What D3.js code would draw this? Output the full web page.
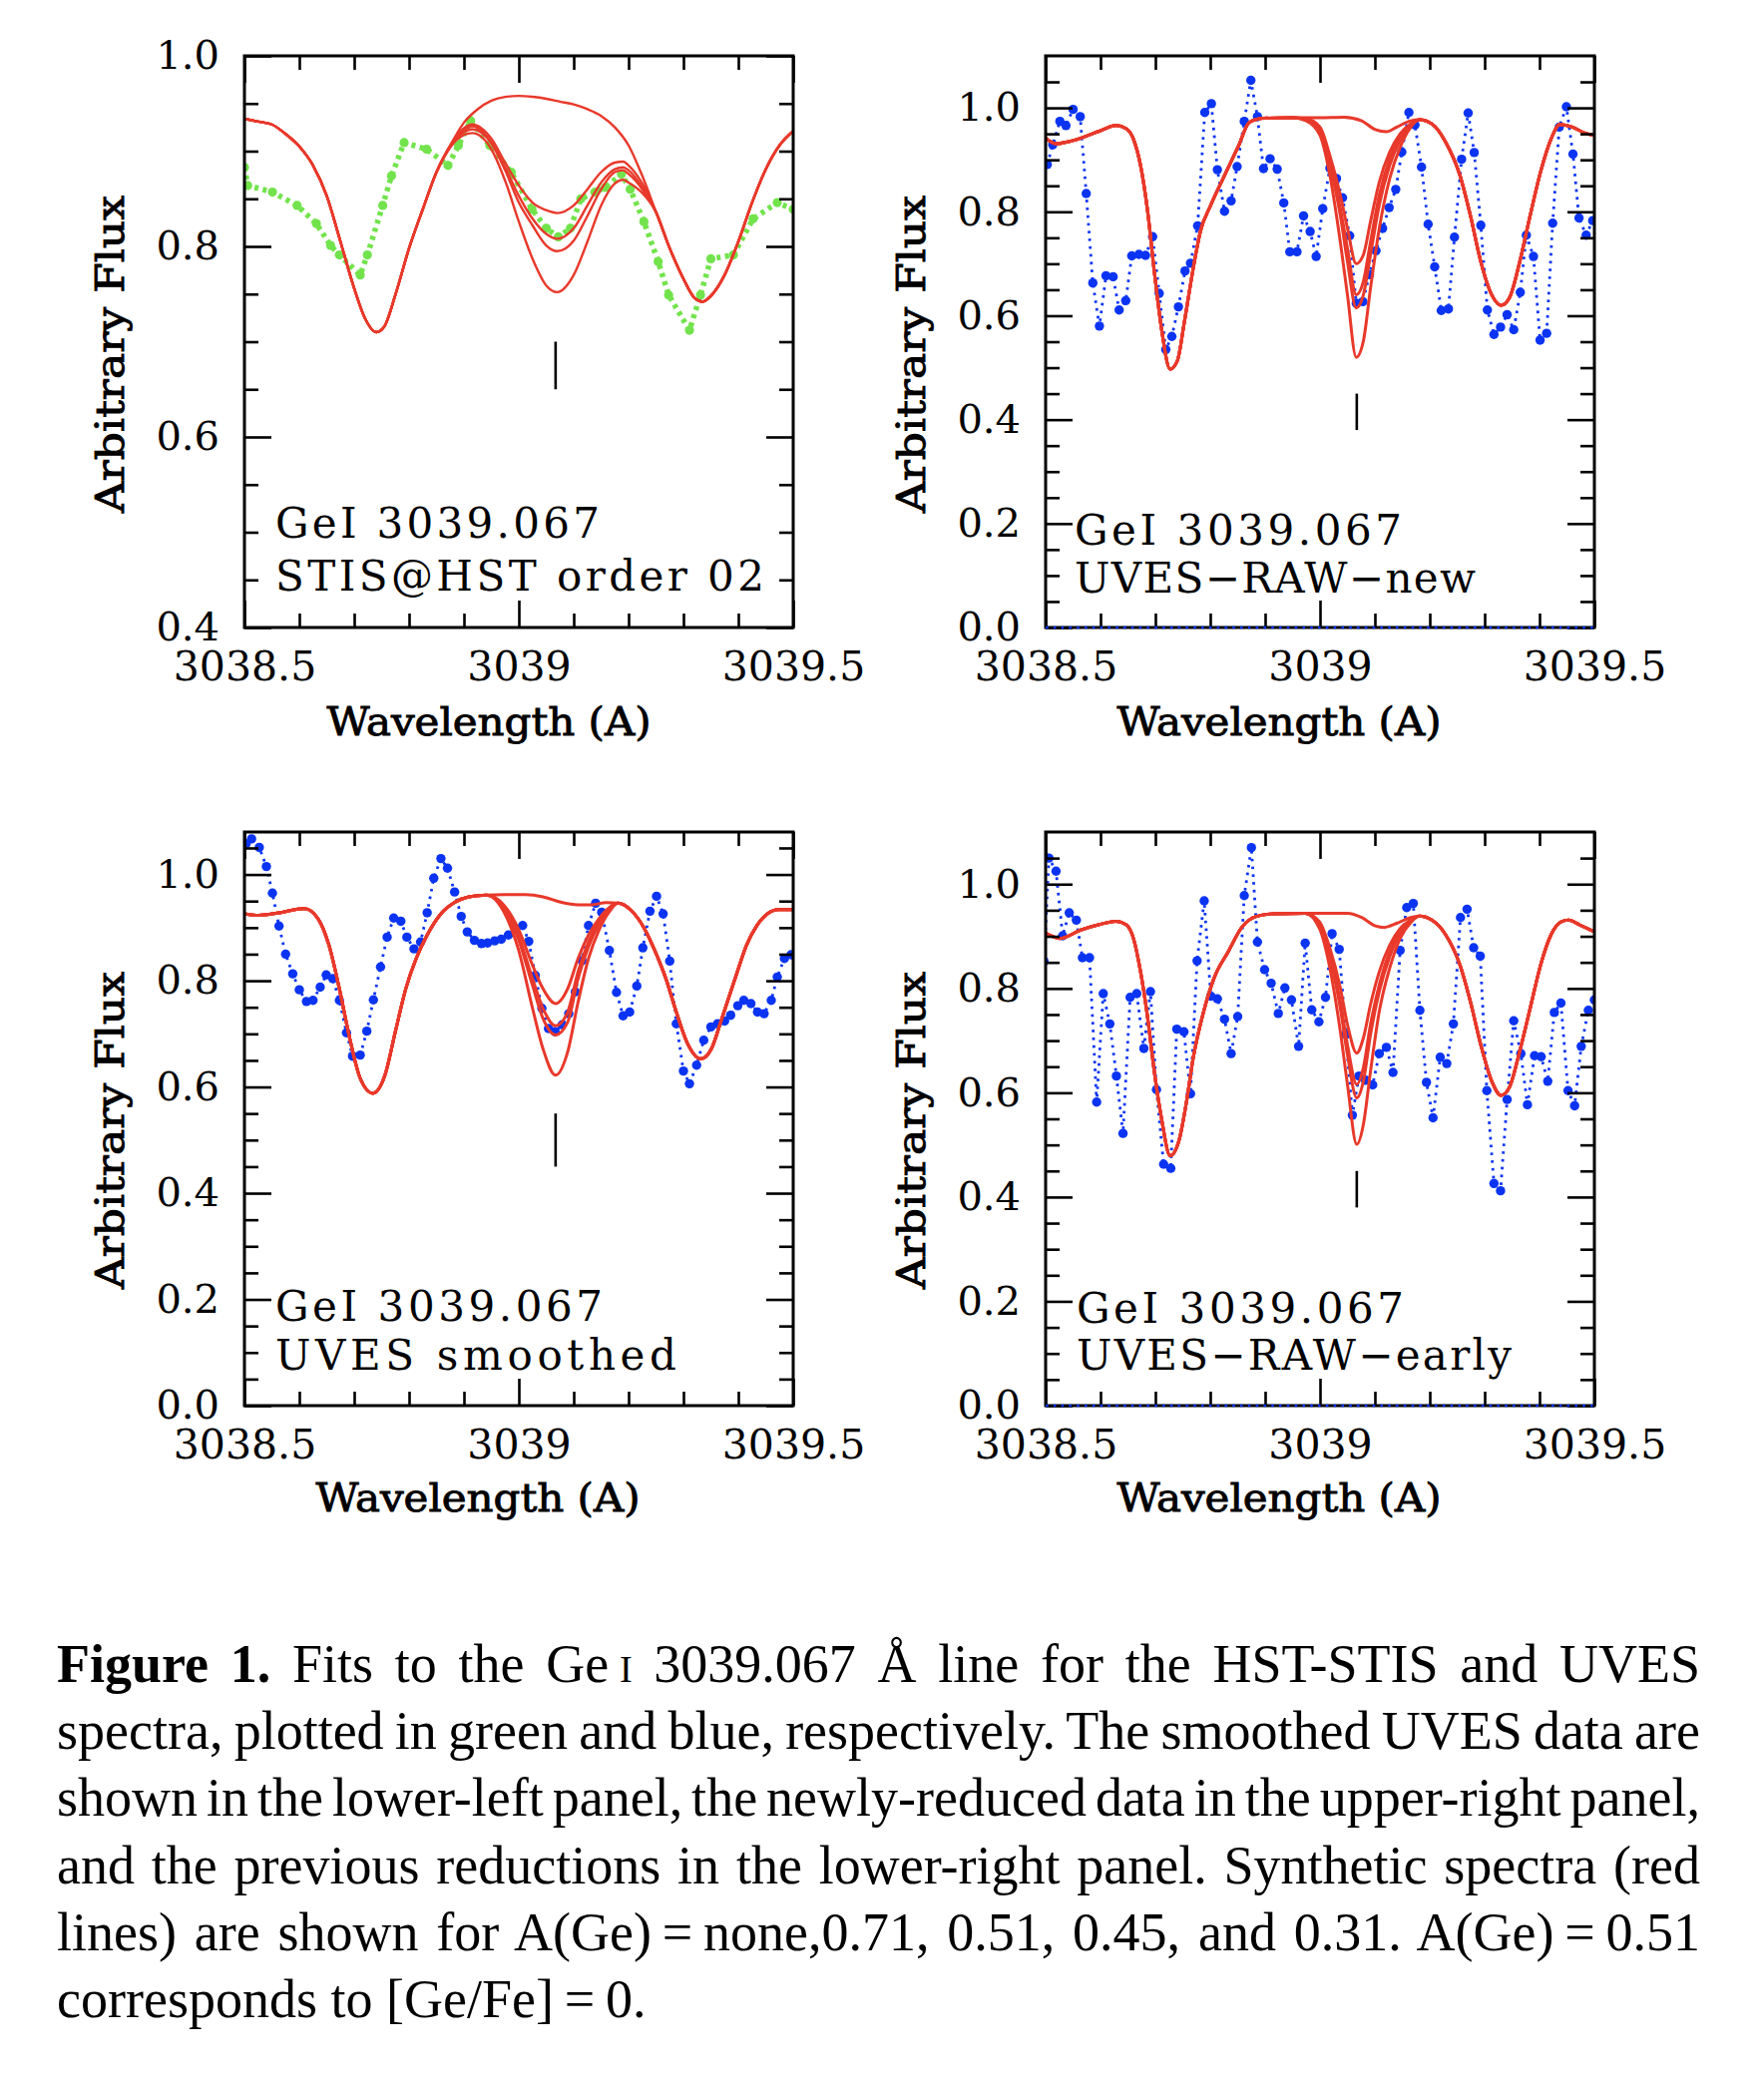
<!DOCTYPE html>
<html><head><meta charset="utf-8">
<script src="https://cdn.jsdelivr.net/npm/d3@7"></script>
<style>body{margin:0;background:#fff;} svg{display:block;background:#fff}</style>
</head><body>
<svg id="fig" width="1768" height="2088"></svg>
<script>
// ---------------- DATA ----------------
const xMajor = [3038.5, 3039.0, 3039.5];
const xLabels = ["3038.5", "3039", "3039.5"];
const xMinor = [3038.6, 3038.7, 3038.8, 3038.9, 3039.1, 3039.2, 3039.3, 3039.4];
const yMajorTL = [0.4, 0.6, 0.8, 1.0];
const yLabelsTL = ["0.4", "0.6", "0.8", "1.0"];
const yMinorTL = [0.45, 0.5, 0.55, 0.65, 0.7, 0.75, 0.85, 0.9, 0.95];
const yMajorUV = [0.0, 0.2, 0.4, 0.6, 0.8, 1.0];
const yLabelsUV = ["0.0", "0.2", "0.4", "0.6", "0.8", "1.0"];
const yMinorUV = [0.05, 0.1, 0.15, 0.25, 0.3, 0.35, 0.45, 0.5, 0.55, 0.65, 0.7, 0.75, 0.85, 0.9, 0.95, 1.05];
const geLineWl = 3039.067;
const abundances = ["0.31", "0.45", "0.51", "0.71"];

// --- Top-left: STIS@HST (green) ---
const stisData = [[3038.500,0.883],[3038.506,0.864],[3038.551,0.857],[3038.596,0.843],[3038.631,0.824],[3038.657,0.801],[3038.673,0.791],[3038.711,0.770],[3038.724,0.791],[3038.752,0.843],[3038.768,0.874],[3038.791,0.909],[3038.832,0.902],[3038.871,0.885],[3038.890,0.906],[3038.912,0.932],[3038.947,0.906],[3038.986,0.878],[3039.024,0.839],[3039.050,0.819],[3039.072,0.810],[3039.094,0.819],[3039.113,0.850],[3039.139,0.857],[3039.158,0.862],[3039.187,0.876],[3039.203,0.860],[3039.228,0.826],[3039.254,0.784],[3039.273,0.749],[3039.311,0.712],[3039.331,0.749],[3039.350,0.787],[3039.391,0.791],[3039.427,0.829],[3039.471,0.846],[3039.500,0.839]];
const tlSynthNone = [[3038.5,0.934],[3038.525,0.931],[3038.55,0.928],[3038.575,0.918],[3038.6,0.905],[3038.625,0.885],[3038.65,0.853],[3038.675,0.805],[3038.7,0.756],[3038.72,0.724],[3038.74,0.710],[3038.755,0.716],[3038.775,0.749],[3038.8,0.798],[3038.825,0.839],[3038.85,0.878],[3038.875,0.906],[3038.9,0.930],[3038.925,0.944],[3038.95,0.953],[3038.975,0.957],[3039.0,0.958],[3039.025,0.957],[3039.05,0.955],[3039.075,0.952],[3039.1,0.949],[3039.125,0.944],[3039.15,0.937],[3039.175,0.925],[3039.2,0.906],[3039.225,0.874],[3039.25,0.836],[3039.275,0.798],[3039.3,0.766],[3039.32,0.746],[3039.335,0.742],[3039.35,0.748],[3039.375,0.770],[3039.4,0.805],[3039.425,0.846],[3039.45,0.881],[3039.475,0.906],[3039.5,0.921]];
const tlAbWl  = [3038.875,3038.9,3038.915,3038.95,3038.975,3039.0,3039.025,3039.05,3039.07,3039.1,3039.125,3039.15,3039.175,3039.19,3039.2,3039.225,3039.25];
const tlAb031 = [0.906,0.924,0.928,0.913,0.888,0.864,0.846,0.838,0.835,0.843,0.860,0.878,0.888,0.889,0.885,0.866,0.836];
const tlAb045 = [0.905,0.922,0.926,0.909,0.883,0.853,0.829,0.813,0.808,0.819,0.843,0.867,0.881,0.883,0.880,0.862,0.836];
const tlAb051 = [0.905,0.920,0.923,0.908,0.880,0.846,0.822,0.801,0.795,0.806,0.832,0.860,0.878,0.880,0.876,0.860,0.836];
const tlAb071 = [0.904,0.917,0.919,0.902,0.869,0.826,0.787,0.759,0.752,0.770,0.805,0.843,0.866,0.870,0.867,0.856,0.836];

// --- Top-right: UVES-RAW-new (blue) ---
const uvesNewData = [[3038.503,0.891],[3038.513,0.929],[3038.526,0.974],[3038.537,0.966],[3038.550,0.997],[3038.563,0.983],[3038.574,0.835],[3038.586,0.663],[3038.598,0.580],[3038.610,0.677],[3038.623,0.675],[3038.634,0.611],[3038.646,0.629],[3038.657,0.715],[3038.670,0.718],[3038.682,0.716],[3038.695,0.752],[3038.707,0.643],[3038.719,0.535],[3038.730,0.560],[3038.742,0.617],[3038.754,0.686],[3038.764,0.701],[3038.777,0.773],[3038.790,0.991],[3038.802,1.008],[3038.813,0.881],[3038.826,0.801],[3038.838,0.821],[3038.849,0.887],[3038.862,0.974],[3038.874,1.053],[3038.886,0.983],[3038.897,0.883],[3038.909,0.902],[3038.922,0.882],[3038.934,0.817],[3038.945,0.723],[3038.958,0.723],[3038.970,0.792],[3038.982,0.762],[3038.993,0.714],[3039.005,0.806],[3039.018,0.884],[3039.030,0.864],[3039.041,0.827],[3039.054,0.754],[3039.066,0.624],[3039.078,0.627],[3039.090,0.679],[3039.102,0.725],[3039.114,0.768],[3039.126,0.808],[3039.138,0.843],[3039.149,0.915],[3039.162,0.991],[3039.173,0.967],[3039.185,0.886],[3039.197,0.776],[3039.209,0.694],[3039.221,0.610],[3039.234,0.613],[3039.245,0.751],[3039.258,0.901],[3039.270,0.990],[3039.281,0.914],[3039.293,0.774],[3039.305,0.611],[3039.317,0.564],[3039.329,0.578],[3039.341,0.602],[3039.353,0.573],[3039.365,0.645],[3039.376,0.755],[3039.389,0.714],[3039.401,0.553],[3039.413,0.566],[3039.424,0.778],[3039.436,0.963],[3039.449,1.002],[3039.461,0.911],[3039.472,0.788],[3039.485,0.755],[3039.497,0.783]];
const trSynthNone = [[3038.500,0.942],[3038.519,0.931],[3038.550,0.937],[3038.600,0.956],[3038.628,0.966],[3038.647,0.960],[3038.660,0.940],[3038.673,0.889],[3038.686,0.800],[3038.698,0.685],[3038.711,0.576],[3038.727,0.497],[3038.740,0.513],[3038.753,0.589],[3038.769,0.691],[3038.782,0.762],[3038.801,0.813],[3038.826,0.870],[3038.852,0.928],[3038.871,0.972],[3038.897,0.980],[3038.948,0.981],[3038.999,0.981],[3039.044,0.982],[3039.076,0.975],[3039.101,0.958],[3039.121,0.954],[3039.140,0.963],[3039.165,0.975],[3039.181,0.977],[3039.204,0.969],[3039.229,0.934],[3039.255,0.870],[3039.274,0.793],[3039.293,0.704],[3039.313,0.640],[3039.330,0.620],[3039.345,0.634],[3039.364,0.704],[3039.383,0.793],[3039.402,0.877],[3039.421,0.940],[3039.437,0.968],[3039.460,0.963],[3039.479,0.953],[3039.500,0.947]];
const trAbWl  = [3038.95,3038.975,3039.0,3039.018,3039.037,3039.05,3039.066,3039.079,3039.092,3039.108,3039.127,3039.146,3039.165,3039.181];
const trAb031 = [0.981,0.979,0.963,0.908,0.832,0.768,0.700,0.717,0.781,0.857,0.915,0.950,0.969,0.977];
const trAb045 = [0.981,0.978,0.960,0.896,0.806,0.730,0.640,0.666,0.742,0.832,0.902,0.944,0.968,0.977];
const trAb051 = [0.981,0.977,0.956,0.889,0.793,0.704,0.615,0.640,0.717,0.813,0.889,0.937,0.966,0.977];
const trAb071 = [0.981,0.975,0.947,0.870,0.742,0.640,0.520,0.551,0.653,0.768,0.864,0.924,0.962,0.977];

// --- Bottom-left: UVES smoothed (blue) ---
const uvesSmoothData = [[3038.503,1.058],[3038.513,1.067],[3038.527,1.051],[3038.540,1.015],[3038.551,0.965],[3038.563,0.903],[3038.575,0.850],[3038.588,0.813],[3038.600,0.783],[3038.613,0.761],[3038.625,0.763],[3038.638,0.788],[3038.649,0.811],[3038.661,0.804],[3038.673,0.763],[3038.686,0.702],[3038.697,0.658],[3038.711,0.660],[3038.723,0.705],[3038.735,0.764],[3038.748,0.826],[3038.760,0.882],[3038.772,0.918],[3038.785,0.912],[3038.796,0.882],[3038.809,0.860],[3038.821,0.873],[3038.833,0.928],[3038.845,0.993],[3038.858,1.030],[3038.870,1.012],[3038.883,0.967],[3038.895,0.921],[3038.906,0.892],[3038.919,0.876],[3038.932,0.870],[3038.943,0.871],[3038.956,0.875],[3038.968,0.878],[3038.981,0.886],[3038.994,0.898],[3039.007,0.904],[3039.018,0.874],[3039.030,0.810],[3039.042,0.748],[3039.054,0.710],[3039.066,0.704],[3039.079,0.717],[3039.091,0.738],[3039.103,0.779],[3039.115,0.838],[3039.127,0.904],[3039.140,0.946],[3039.151,0.929],[3039.165,0.857],[3039.178,0.778],[3039.190,0.734],[3039.202,0.741],[3039.215,0.790],[3039.226,0.862],[3039.239,0.931],[3039.251,0.959],[3039.263,0.926],[3039.275,0.837],[3039.287,0.719],[3039.300,0.630],[3039.311,0.606],[3039.324,0.641],[3039.337,0.688],[3039.350,0.713],[3039.362,0.719],[3039.375,0.724],[3039.386,0.735],[3039.399,0.753],[3039.410,0.763],[3039.423,0.757],[3039.435,0.741],[3039.447,0.738],[3039.460,0.763],[3039.471,0.807],[3039.484,0.842],[3039.496,0.849]];
const blSynthNone = [[3038.500,0.926],[3038.526,0.923],[3038.564,0.928],[3038.609,0.936],[3038.634,0.917],[3038.654,0.867],[3038.673,0.785],[3038.692,0.691],[3038.711,0.616],[3038.734,0.588],[3038.756,0.622],[3038.775,0.704],[3038.794,0.785],[3038.813,0.842],[3038.833,0.886],[3038.858,0.926],[3038.884,0.948],[3038.909,0.958],[3038.941,0.961],[3038.973,0.962],[3039.012,0.962],[3039.044,0.958],[3039.076,0.948],[3039.108,0.943],[3039.133,0.943],[3039.159,0.947],[3039.181,0.946],[3039.204,0.933],[3039.229,0.898],[3039.249,0.854],[3039.268,0.804],[3039.287,0.741],[3039.306,0.685],[3039.332,0.653],[3039.351,0.672],[3039.370,0.729],[3039.396,0.810],[3039.415,0.867],[3039.434,0.904],[3039.453,0.926],[3039.473,0.934],[3039.500,0.934]];
const blAbWl  = [3038.941,3038.973,3038.999,3039.025,3039.044,3039.067,3039.089,3039.108,3039.127,3039.146,3039.165,3039.181];
const blAb031 = [0.961,0.942,0.898,0.829,0.785,0.757,0.785,0.842,0.886,0.917,0.938,0.946];
const blAb045 = [0.961,0.939,0.886,0.804,0.748,0.715,0.741,0.817,0.873,0.911,0.937,0.946];
const blAb051 = [0.961,0.936,0.879,0.791,0.729,0.698,0.722,0.804,0.864,0.906,0.935,0.946];
const blAb071 = [0.961,0.929,0.860,0.748,0.672,0.622,0.666,0.760,0.842,0.895,0.930,0.946];

// --- Bottom-right: UVES-RAW-early (blue) ---
const uvesEarlyData = [[3038.497,0.852],[3038.506,1.050],[3038.519,1.025],[3038.531,0.901],[3038.543,0.945],[3038.556,0.931],[3038.567,0.859],[3038.580,0.859],[3038.593,0.582],[3038.605,0.790],[3038.617,0.732],[3038.629,0.632],[3038.641,0.522],[3038.654,0.783],[3038.666,0.790],[3038.679,0.685],[3038.691,0.794],[3038.702,0.606],[3038.715,0.463],[3038.728,0.455],[3038.739,0.722],[3038.752,0.717],[3038.764,0.598],[3038.776,0.853],[3038.789,0.968],[3038.801,0.785],[3038.813,0.780],[3038.826,0.741],[3038.838,0.675],[3038.850,0.746],[3038.862,0.978],[3038.875,1.070],[3038.886,0.889],[3038.899,0.836],[3038.911,0.810],[3038.924,0.752],[3038.936,0.801],[3038.948,0.778],[3038.961,0.689],[3038.973,0.887],[3038.985,0.759],[3038.998,0.736],[3039.010,0.783],[3039.022,0.905],[3039.035,0.875],[3039.047,0.712],[3039.059,0.557],[3039.071,0.632],[3039.083,0.624],[3039.096,0.615],[3039.108,0.675],[3039.121,0.687],[3039.133,0.639],[3039.146,0.873],[3039.158,0.955],[3039.170,0.963],[3039.182,0.758],[3039.194,0.620],[3039.206,0.552],[3039.219,0.668],[3039.231,0.656],[3039.243,0.732],[3039.256,0.936],[3039.268,0.952],[3039.280,0.878],[3039.292,0.862],[3039.304,0.604],[3039.317,0.426],[3039.329,0.412],[3039.341,0.587],[3039.353,0.738],[3039.366,0.675],[3039.378,0.577],[3039.391,0.671],[3039.403,0.669],[3039.415,0.622],[3039.427,0.754],[3039.439,0.772],[3039.452,0.604],[3039.464,0.575],[3039.476,0.689],[3039.489,0.758],[3039.500,0.778]];
const brSynthNone = [[3038.500,0.906],[3038.526,0.896],[3038.564,0.912],[3038.596,0.922],[3038.628,0.929],[3038.647,0.922],[3038.660,0.896],[3038.673,0.832],[3038.686,0.743],[3038.698,0.641],[3038.711,0.552],[3038.727,0.479],[3038.743,0.508],[3038.756,0.578],[3038.769,0.667],[3038.788,0.756],[3038.807,0.820],[3038.833,0.871],[3038.858,0.918],[3038.884,0.938],[3038.916,0.943],[3038.973,0.944],[3039.012,0.944],[3039.050,0.944],[3039.076,0.936],[3039.101,0.920],[3039.117,0.917],[3039.140,0.925],[3039.165,0.936],[3039.181,0.939],[3039.204,0.931],[3039.229,0.903],[3039.255,0.845],[3039.274,0.775],[3039.293,0.692],[3039.313,0.622],[3039.330,0.595],[3039.345,0.610],[3039.364,0.680],[3039.383,0.762],[3039.402,0.845],[3039.421,0.903],[3039.440,0.928],[3039.453,0.931],[3039.473,0.922],[3039.500,0.909]];
const brAbWl  = [3038.973,3038.999,3039.018,3039.037,3039.05,3039.067,3039.079,3039.092,3039.108,3039.127,3039.146,3039.165,3039.181];
const brAb031 = [0.944,0.928,0.877,0.801,0.731,0.676,0.705,0.769,0.832,0.883,0.915,0.931,0.939];
const brAb045 = [0.944,0.925,0.864,0.775,0.692,0.616,0.648,0.731,0.807,0.871,0.910,0.930,0.939];
const brAb051 = [0.944,0.922,0.858,0.762,0.673,0.590,0.622,0.711,0.794,0.861,0.906,0.929,0.939];
const brAb071 = [0.944,0.915,0.839,0.718,0.616,0.501,0.539,0.641,0.756,0.839,0.896,0.926,0.939];

const panelLabels = [
  ["GeI 3039.067", "STIS@HST order 02"],
  ["GeI 3039.067", "UVES\u2212RAW\u2212new"],
  ["GeI 3039.067", "UVES smoothed"],
  ["GeI 3039.067", "UVES\u2212RAW\u2212early"]
];
const xTitle = "Wavelength (A)";
const yTitle = "Arbitrary Flux";

const captionLines = [
  [{t:"Figure 1.", b:true}, {t:" Fits to the Ge\u2009"}, {t:"I", sc:true}, {t:" 3039.067 \u00C5 line for the HST-STIS and UVES"}],
  [{t:"spectra, plotted in green and blue, respectively. The smoothed UVES data are"}],
  [{t:"shown in the lower-left panel, the newly-reduced data in the upper-right panel,"}],
  [{t:"and the previous reductions in the lower-right panel. Synthetic spectra (red"}],
  [{t:"lines) are shown for A(Ge)\u2009=\u2009none,0.71, 0.51, 0.45, and 0.31. A(Ge)\u2009=\u20090.51"}],
  [{t:"corresponds to [Ge/Fe]\u2009=\u20090."}]
];

// ---------------- DRAWING ----------------
const svg = d3.select("#fig");
const RED = "#e8392b", BLUE = "#0b34f2", GREEN = "#72e34c";
const SERIF = "'DejaVu Serif', serif";

const zip = (wl, v) => wl.map((w, i) => [w, v[i]]);

const panels = [
  {id:"tl", x0:245, x1:795, y0:56, y1:629, yMin:0.4, yMax:1.0, yMajor:yMajorTL, yLabels:yLabelsTL, yMinor:yMinorTL,
   data:stisData, kind:"green", none:tlSynthNone, abWl:tlAbWl, ab:[tlAb031,tlAb045,tlAb051,tlAb071], redW:2.4,
   marker:[0.65,0.70], labels:panelLabels[0], lblX:276, lblY:[539,592], lblW:[325,490], xtC:490, xtY:737, ytX:124, ytC:355, zero:false},
  {id:"tr", x0:1048, x1:1598, y0:56, y1:629, yMin:0, yMax:1.1, yMajor:yMajorUV, yLabels:yLabelsUV, yMinor:yMinorUV,
   data:uvesNewData, kind:"blue", none:trSynthNone, abWl:trAbWl, ab:[trAb031,trAb045,trAb051,trAb071], redW:3,
   marker:[0.38,0.45], labels:panelLabels[1], lblX:1077, lblY:[546,594], lblW:[328,402], xtC:1282, xtY:737, ytX:927, ytC:355, zero:true},
  {id:"bl", x0:245, x1:795, y0:834, y1:1409, yMin:0, yMax:1.08, yMajor:yMajorUV, yLabels:yLabelsUV, yMinor:yMinorUV,
   data:uvesSmoothData, kind:"blue", none:blSynthNone, abWl:blAbWl, ab:[blAb031,blAb045,blAb051,blAb071], redW:3,
   marker:[0.45,0.55], labels:panelLabels[2], lblX:276, lblY:[1324,1373], lblW:[328,402], xtC:479, xtY:1515, ytX:124, ytC:1133, zero:false},
  {id:"br", x0:1048, x1:1598, y0:834, y1:1409, yMin:0, yMax:1.1, yMajor:yMajorUV, yLabels:yLabelsUV, yMinor:yMinorUV,
   data:uvesEarlyData, kind:"blue", none:brSynthNone, abWl:brAbWl, ab:[brAb031,brAb045,brAb051,brAb071], redW:3,
   marker:[0.38,0.45], labels:panelLabels[3], lblX:1079, lblY:[1326,1373], lblW:[328,436], xtC:1282, xtY:1515, ytX:927, ytC:1133, zero:true}
];

function drawPanel(p) {
  const x = d3.scaleLinear().domain([3038.5, 3039.5]).range([p.x0, p.x1]);
  const y = d3.scaleLinear().domain([p.yMin, p.yMax]).range([p.y1, p.y0]);
  const g = svg.append("g").attr("class", "panel-" + p.id);
  const clipId = "clip-" + p.id;
  svg.append("defs").append("clipPath").attr("id", clipId)
    .append("rect").attr("x", p.x0).attr("y", p.y0).attr("width", p.x1 - p.x0).attr("height", p.y1 - p.y0);
  const plot = g.append("g").attr("clip-path", `url(#${clipId})`);
  const lin = d3.line().x(d => x(d[0])).y(d => y(d[1]));

  // observed data
  if (p.kind === "green") {
    plot.append("path").datum(p.data).attr("d", lin).attr("fill", "none")
      .attr("stroke", GREEN).attr("stroke-width", 5.5).attr("stroke-dasharray", "4,4.5");
    plot.selectAll("circle.obs").data(p.data).join("circle").attr("class", "obs")
      .attr("cx", d => x(d[0])).attr("cy", d => y(d[1])).attr("r", 4.6).attr("fill", GREEN);
  } else {
    plot.append("path").datum(p.data).attr("d", lin).attr("fill", "none")
      .attr("stroke", BLUE).attr("stroke-width", 2.8).attr("stroke-dasharray", "2.6,5.2");
    plot.selectAll("circle.obs").data(p.data).join("circle").attr("class", "obs")
      .attr("cx", d => x(d[0])).attr("cy", d => y(d[1])).attr("r", 4.7).attr("fill", BLUE);
  }

  // synthetic spectra
  const smooth = d3.line().x(d => x(d[0])).y(d => y(d[1])).curve(d3.curveMonotoneX);
  const curves = [p.none];
  p.ab.forEach(vals => {
    const seg = zip(p.abWl, vals);
    const a0 = seg[0][0], a1 = seg[seg.length - 1][0];
    curves.push(p.none.filter(d => d[0] < a0).concat(seg, p.none.filter(d => d[0] > a1)));
  });
  plot.selectAll("path.synth").data(curves).join("path").attr("class", "synth")
    .attr("d", smooth).attr("fill", "none").attr("stroke", RED)
    .attr("stroke-width", p.redW).attr("stroke-linejoin", "round");

  // Ge line marker
  g.append("line").attr("x1", x(geLineWl)).attr("x2", x(geLineWl))
    .attr("y1", y(p.marker[0])).attr("y2", y(p.marker[1]))
    .attr("stroke", "#000").attr("stroke-width", 2.6);

  // axes
  const styleAxis = sel => {
    sel.select(".domain").remove();
    sel.selectAll(".tick line").attr("stroke", "#000").attr("stroke-width", 2.6);
    sel.attr("font-family", SERIF).attr("font-size", 40);
    sel.selectAll(".tick text").attr("fill", "#000");
  };
  g.append("g").attr("transform", `translate(${p.x0},0)`)
    .call(d3.axisLeft(y).tickValues(p.yMajor).tickSize(-27).tickPadding(25)
      .tickFormat(d => p.yLabels[p.yMajor.indexOf(d)])).call(styleAxis);
  g.append("g").attr("transform", `translate(${p.x0},0)`)
    .call(d3.axisLeft(y).tickValues(p.yMinor).tickSize(-14).tickFormat("")).call(styleAxis);
  g.append("g").attr("transform", `translate(${p.x1},0)`)
    .call(d3.axisRight(y).tickValues(p.yMajor).tickSize(-27).tickFormat("")).call(styleAxis);
  g.append("g").attr("transform", `translate(${p.x1},0)`)
    .call(d3.axisRight(y).tickValues(p.yMinor).tickSize(-14).tickFormat("")).call(styleAxis);
  const bx = g.append("g").attr("transform", `translate(0,${p.y1})`)
    .call(d3.axisBottom(x).tickValues(xMajor).tickSize(-27)
      .tickFormat(d => xLabels[xMajor.indexOf(d)])).call(styleAxis);
  bx.selectAll(".tick text").attr("y", 53).attr("dy", 0).attr("font-size", 41);
  g.append("g").attr("transform", `translate(0,${p.y1})`)
    .call(d3.axisBottom(x).tickValues(xMinor).tickSize(-14).tickFormat("")).call(styleAxis);
  g.append("g").attr("transform", `translate(0,${p.y0})`)
    .call(d3.axisTop(x).tickValues(xMajor).tickSize(-27).tickFormat("")).call(styleAxis);
  g.append("g").attr("transform", `translate(0,${p.y0})`)
    .call(d3.axisTop(x).tickValues(xMinor).tickSize(-14).tickFormat("")).call(styleAxis);

  // frame
  g.append("rect").attr("x", p.x0).attr("y", p.y0).attr("width", p.x1 - p.x0).attr("height", p.y1 - p.y0)
    .attr("fill", "none").attr("stroke", "#000").attr("stroke-width", 3);

  // zero-level dotted line (raw UVES panels)
  if (p.zero) {
    g.append("line").attr("x1", x(3038.5)).attr("x2", x(3039.5)).attr("y1", y(0)).attr("y2", y(0))
      .attr("stroke", BLUE).attr("stroke-width", 2.6).attr("stroke-dasharray", "2.6,5.2");
  }

  // in-panel labels
  p.labels.forEach((t, i) => {
    g.append("text").attr("x", p.lblX).attr("y", p.lblY[i]).text(t)
      .attr("font-family", SERIF).attr("font-size", 42).attr("fill", "#000")
      .attr("textLength", p.lblW[i]).attr("lengthAdjust", "spacing");
  });

  // axis titles (medium weight)
  g.append("text").attr("x", p.xtC).attr("y", p.xtY).attr("text-anchor", "middle").text(xTitle)
    .attr("font-family", SERIF).attr("font-size", 40).attr("fill", "#000")
    .attr("stroke", "#000").attr("stroke-width", 0.9)
    .attr("textLength", 325).attr("lengthAdjust", "spacingAndGlyphs");
  g.append("text").attr("transform", `translate(${p.ytX},${p.ytC}) rotate(-90)`)
    .attr("text-anchor", "middle").text(yTitle)
    .attr("font-family", SERIF).attr("font-size", 40).attr("fill", "#000")
    .attr("stroke", "#000").attr("stroke-width", 0.9)
    .attr("textLength", 318).attr("lengthAdjust", "spacingAndGlyphs");
}

panels.forEach(drawPanel);

// caption
const capX0 = 57, capX1 = 1704, capY0 = 1686, capDY = 67.2;
captionLines.forEach((segs, li) => {
  const t = svg.append("text").attr("x", capX0).attr("y", capY0 + li * capDY)
    .attr("font-family", "'Liberation Serif', 'Times New Roman', serif").attr("font-size", 54).attr("fill", "#000");
  segs.forEach(s => {
    const ts = t.append("tspan").text(s.t);
    if (s.b) ts.attr("font-weight", "bold");
    if (s.sc) ts.attr("font-size", 38);
  });
  if (li < captionLines.length - 1) {
    const nat = t.node().getComputedTextLength();
    const nSp = segs.map(s => s.t.split(" ").length - 1).reduce((a, b) => a + b, 0);
    t.style("word-spacing", ((capX1 - capX0 - nat) / nSp) + "px");
  }
});
</script>
</body></html>
